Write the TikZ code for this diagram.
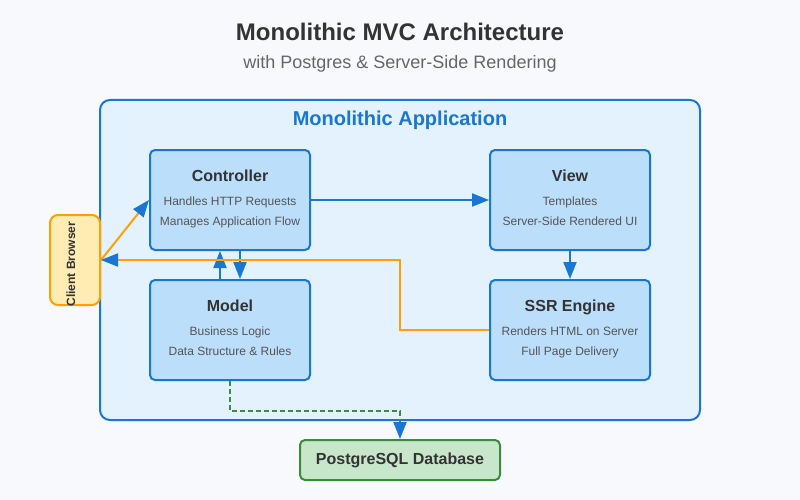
\documentclass[tikz,border=0pt]{standalone}
\usepackage{fontspec}
\setmainfont{Liberation Sans}
\usetikzlibrary{arrows.meta}
\definecolor{bg}{HTML}{F8F9FC}
\definecolor{appfill}{HTML}{E3F2FD}
\definecolor{blue1}{HTML}{1976D2}
\definecolor{compfill}{HTML}{BBDEFB}
\definecolor{txt}{HTML}{333333}
\definecolor{subtxt}{HTML}{555555}
\definecolor{orng}{HTML}{FFA000}
\definecolor{clientfill}{HTML}{FFECB3}
\definecolor{dbfill}{HTML}{C8E6C9}
\definecolor{dbline}{HTML}{388E3C}
\tikzset{
  comp/.style={draw=blue1, fill=compfill, line width=2pt, rounded corners=5pt, minimum width=160pt, minimum height=100pt, inner sep=0pt},
  comptitle/.style={font=\fontsize{16}{19}\selectfont\bfseries, text=txt, inner sep=0pt, anchor=base},
  compline/.style={font=\fontsize{12}{14}\selectfont, text=subtxt, inner sep=0pt, anchor=base},
  tipb/.style={-{Triangle[length=17pt,width=13pt,color=blue1,fill=blue1]}},
  flow/.style={draw=blue1, line width=2pt, tipb},
  oflow/.style={draw=orng, line width=2pt, tipb},
  dflow/.style={draw=dbline, line width=2pt, dash pattern=on 5pt off 3pt, tipb},
}
\begin{document}
\begin{tikzpicture}[x=1pt,y=-1pt]
\fill[bg] (0,0) rectangle (800,500);
\useasboundingbox (0,0) rectangle (800,500);
\node[font=\fontsize{24}{28}\selectfont\bfseries, text=txt] (title) at (400,32) {Monolithic MVC Architecture};
\node[font=\fontsize{18}{21}\selectfont, text=black!60] (subtitle) at (400,64) {with Postgres \& Server-Side Rendering};
\node[draw=blue1, fill=appfill, line width=2pt, rounded corners=10pt, minimum width=600pt, minimum height=320pt] (app) at (400,260) {};
\node[font=\fontsize{20}{24}\selectfont\bfseries, text=blue1] (apptitle) at (400,120) {Monolithic Application};

\node[comp] (ctrl) at (230,200) {};
\node[comptitle] (ctrlT) at (230,181) {Controller};
\node[compline] (ctrl1) at (230,205.5) {Handles HTTP Requests};
\node[compline] (ctrl2) at (230,225.5) {Manages Application Flow};

\node[comp] (view) at (570,200) {};
\node[comptitle] (viewT) at (570,181) {View};
\node[compline] (view1) at (570,205.5) {Templates};
\node[compline] (view2) at (570,225.5) {Server-Side Rendered UI};

\node[comp] (model) at (230,330) {};
\node[comptitle] (modelT) at (230,311) {Model};
\node[compline] (model1) at (230,335.5) {Business Logic};
\node[compline] (model2) at (230,355.5) {Data Structure \& Rules};

\node[comp] (ssr) at (570,330) {};
\node[comptitle] (ssrT) at (570,311) {SSR Engine};
\node[compline] (ssr1) at (570,335.5) {Renders HTML on Server};
\node[compline] (ssr2) at (570,355.5) {Full Page Delivery};

\node[draw=orng, fill=clientfill, line width=2pt, rounded corners=8pt, minimum width=50pt, minimum height=90pt, inner sep=0pt] (client) at (75,260) {};
\node[rotate=90, font=\fontsize{12}{14}\selectfont\bfseries, text=txt, inner sep=0pt, anchor=base] (clientT) at (75,264) {Client Browser};

\node[draw=dbline, fill=dbfill, line width=2pt, rounded corners=5pt, minimum width=200pt, minimum height=40pt, inner sep=0pt, font=\fontsize{16}{19}\selectfont\bfseries, text=txt] (db) at (400,460) {PostgreSQL Database};

\coordinate (bend) at (400,330);

\draw[flow] (ctrl.east) -- (view.west);
\draw[flow] (view.south) -- (ssr.north);
\draw[flow] ([xshift=10pt]ctrl.south) -- ([xshift=10pt]model.north);
\draw[flow] ([xshift=-10pt]model.north) -- ([xshift=-10pt]ctrl.south);
\draw[oflow] (client.east) -- (ctrl.west);
\draw[oflow] (ssr.west) -- (bend) |- (client.east);
\draw[dflow] (model.south) -- ++(0,30) -| (db.north);
\end{tikzpicture}
\end{document}
